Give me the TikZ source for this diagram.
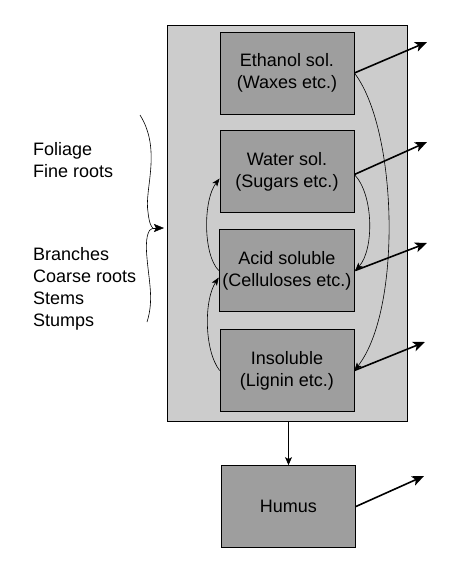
\documentclass[tikz,border=0pt]{standalone}
\usepackage{fontspec}
\setmainfont{Liberation Sans}
\usetikzlibrary{arrows.meta}

\definecolor{poolgray}{gray}{0.80}
\definecolor{boxgray}{gray}{0.62}

\tikzset{
  pool/.style={draw,line width=.8pt,fill=poolgray},
  frac/.style={draw,line width=.8pt,fill=boxgray,minimum width=134pt,minimum height=82pt,
               align=center,font=\fontsize{18}{22}\selectfont},
  outflow/.style={line width=1.6pt,-{Stealth[length=12pt,width=10pt,inset=3pt]}},
  transf/.style={line width=.6pt,-{Stealth[length=8pt,width=6pt,inset=2pt]}},
  lbl/.style={align=left,anchor=north west,inner sep=0pt,font=\fontsize{18}{22}\selectfont}
}

\begin{document}
\begin{tikzpicture}[x=1pt,y=-1pt]
\useasboundingbox (0,0) rectangle (461,566);

%-------------------------------------------- Litter pool
\node[pool,minimum width=240pt,minimum height=396pt] (pool) at (287,223) {};

% Fractions
\node[frac] (ethanol) at (287,73)    {Ethanol sol.\\(Waxes etc.)};
\node[frac] (water)   at (287,171.5) {Water sol.\\(Sugars etc.)};
\node[frac] (acid)    at (287,270.5) {Acid soluble\\(Celluloses etc.)};
\node[frac] (insol)   at (287,370.5) {Insoluble\\(Lignin etc.)};

%-------------------------------------------- Humus
\node[frac] (humus) at (288.5,506.5) {Humus};
\draw[line width=.8pt,-{Stealth[length=8pt,width=7pt,inset=2pt]}](pool.south)--(pool.south -| humus.north) -- (humus.north);

%-------------------------------------------- Litter inputs
\node[lbl] (fine)   at (33,142) {Foliage\\Fine roots};
\node[lbl] (coarse) at (33,247) {Branches\\Coarse roots\\Stems\\Stumps};

\coordinate (bracetop) at (140,115);
\coordinate (bracemid) at (153,228);
\coordinate (bracebot) at (147,322);
\coordinate (bracetip) at (164,228);
\draw[line width=.6pt](bracetop) .. controls (162,150) and (144,190) .. (148,212)
                                  .. controls (149,222) and (151,227) .. (bracemid);  % upper half
\draw[line width=.6pt](bracemid) .. controls (148,229) and (145,238) .. (147,258)
                                  .. controls (149,282) and (154,300) .. (bracebot);  % lower half
\draw[-{Stealth[length=10pt,width=8pt,inset=2pt]}](bracemid)--(bracetip);

%-------------------------------------------- Transfers between fractions
\draw[transf](acid.west) .. controls (203,255) and (203,200) .. ([yshift=-7pt]water.west);
\draw[transf](insol.west) .. controls (204,350) and (204,300) .. ([yshift=-7pt]acid.west);

\draw[transf](ethanol.east) .. controls (398,130) and (402,310) .. (insol.east);
\draw[transf]([yshift=-3pt]water.east) .. controls (374,195) and (374,250) .. (acid.east);

%-------------------------------------------- Decomposition (CO2 out)
\coordinate (outE) at (427,42);
\coordinate (outW) at (427,142);
\coordinate (outA) at (427,243);
\coordinate (outI) at (425,342);
\coordinate (outH) at (424,476);

\draw[outflow](ethanol.east)--(outE);
\draw[outflow]([yshift=-3pt]water.east)--(outW);
\draw[outflow](acid.east)--(outA);
\draw[outflow](insol.east)--(outI);
\draw[outflow](humus.east)--(outH);

\end{tikzpicture}
\end{document}
